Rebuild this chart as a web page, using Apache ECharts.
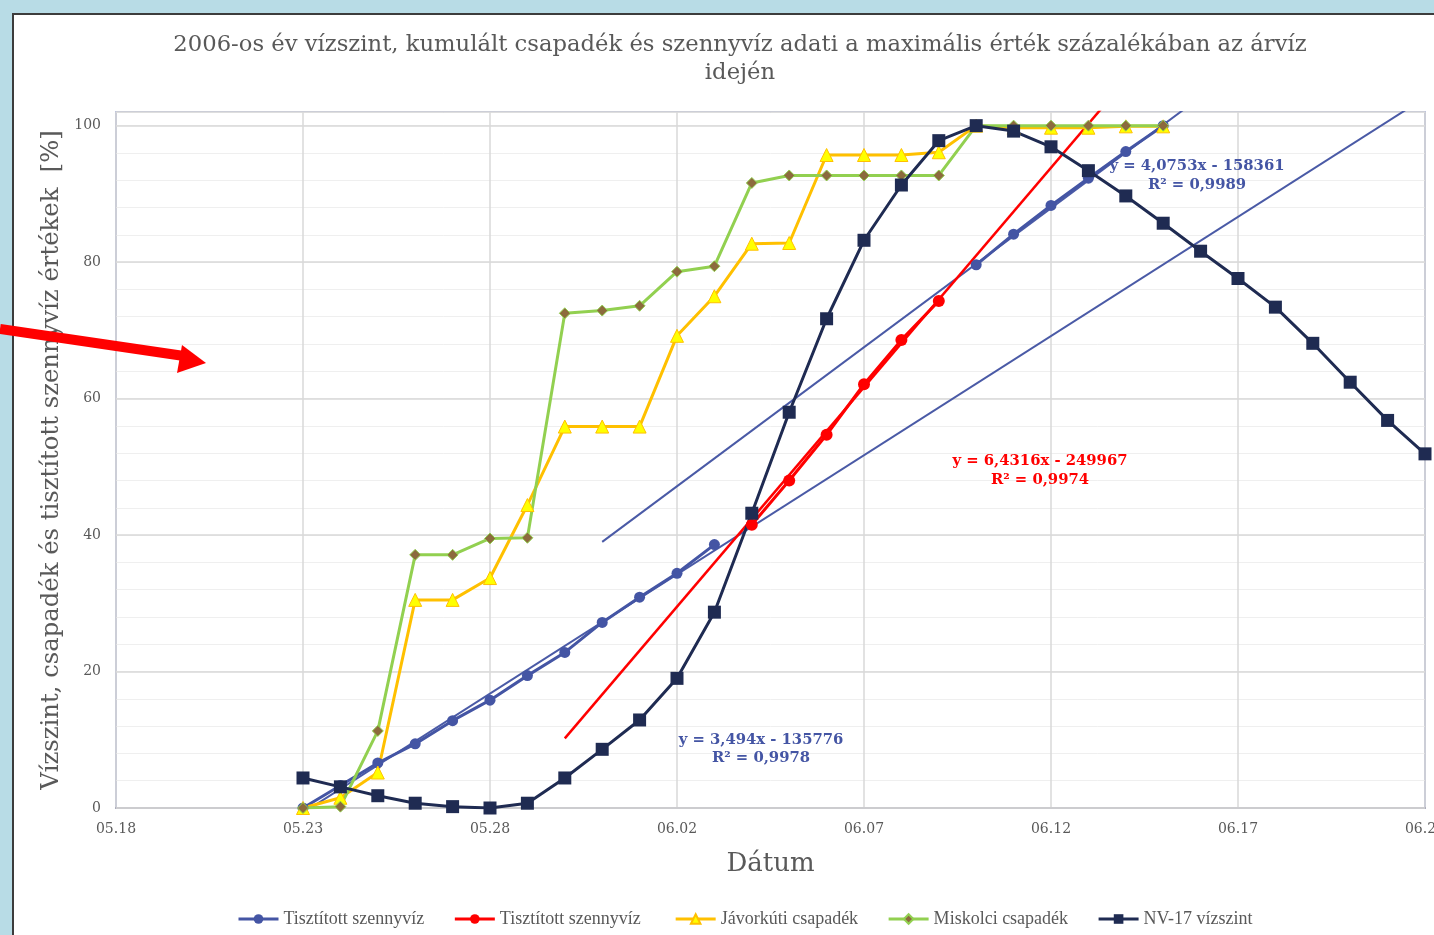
<!DOCTYPE html>
<html>
<head>
<meta charset="utf-8">
<script src="https://cdn.jsdelivr.net/npm/echarts@6/dist/echarts.min.js"></script>
<style>
html, body { margin: 0; padding: 0; background: #b8dce6; }
#frame { position: absolute; left: 12px; top: 13px; right: 0; bottom: 0; background: #fff;
         border-left: 2px solid #3c3c3c; border-top: 2px solid #3c3c3c; }
#chart1 { position: absolute; left: 0; top: 0; width: 1434px; height: 935px; }
</style>
</head>
<body>
<div id="frame"></div>
<div id="chart1"></div>
<script>
// napok 05.23 - 06.22
var dates = ['05.23','05.24','05.25','05.26','05.27','05.28','05.29','05.30','05.31',
             '06.01','06.02','06.03','06.04','06.05','06.06','06.07','06.08','06.09','06.10',
             '06.11','06.12','06.13','06.14','06.15','06.16','06.17','06.18','06.19','06.20',
             '06.21','06.22'];
var tickLabels = ['05.18','05.23','05.28','06.02','06.07','06.12','06.17','06.22'];
var legendNames = ['Tisztított szennyvíz', 'Tisztított szennyvíz ', 'Jávorkúti csapadék',
                   'Miskolci csapadék', 'NV-17 vízszint'];

var szennyvizKek = [0, 3.3, 6.6, 9.4, 12.8, 15.8, 19.4, 22.8, 27.2, 30.9, 34.4, 38.6,
                    null, null, null, null, null, null,
                    79.6, 84.1, 88.3, 92.3, 96.2, 100,
                    null, null, null, null, null, null, null];
var szennyvizPiros = [null, null, null, null, null, null, null, null, null, null, null, null,
                      41.5, 48.0, 54.7, 62.1, 68.6, 74.3,
                      null, null, null, null, null, null, null, null, null, null, null, null, null];
var javorkut = [0, 1.5, 5.2, 30.5, 30.5, 33.7, 44.4, 55.9, 55.9, 55.9, 69.2, 75.0, 82.7, 82.8,
                95.7, 95.7, 95.7, 96.1, 100, 99.7, 99.7, 99.7, 99.9, 99.9,
                null, null, null, null, null, null, null];
var miskolc = [0, 0.2, 11.3, 37.1, 37.1, 39.5, 39.6, 72.5, 72.9, 73.6, 78.6, 79.4, 91.6, 92.7,
               92.7, 92.7, 92.7, 92.7, 100, 100, 100, 100, 100, 100,
               null, null, null, null, null, null, null];
var nv17 = [4.4, 3.1, 1.8, 0.7, 0.2, 0.0, 0.7, 4.4, 8.6, 12.9, 19.0, 28.7, 43.2, 58.0, 71.7,
            83.2, 91.3, 97.8, 100, 99.2, 96.9, 93.4, 89.7, 85.7, 81.6, 77.6, 73.4, 68.1, 62.4,
            56.8, 51.9];

// trendvonalak vegpontjai [nap, ertek] (a kepről leolvasva)
var trendA = [[5, -0.7], [35, 104.1]];
var trendB = [[13, 39.0], [29, 104.2]];
var trendC = [[12, 10.2], [27, 106.7]];

var serif = '"DejaVu Serif", serif';
var grey = '#595959';

function dayOf(s) {
    var p = s.split('.');
    var m = +p[0], d = +p[1];
    return m === 5 ? d - 18 : d + 13;
}
function pairs(vals) {
    return dates.map(function (d, i) { return [dayOf(d), vals[i]]; });
}
function trend(pts, color, w) {
    return {
        type: 'line', data: pts, symbol: 'none', silent: true, z: 1,
        lineStyle: { width: w, color: color }
    };
}
function dataLine(name, vals, symbol, size, lineColor, fill, border) {
    return {
        name: name, type: 'line', data: pairs(vals), symbol: symbol, symbolSize: size, z: 3,
        lineStyle: { width: 3, color: lineColor },
        itemStyle: { color: fill, borderColor: border || fill, borderWidth: border ? 1 : 0 },
        emphasis: { disabled: true }
    };
}
function txt(x, y, text, font, color) {
    return {
        type: 'text', x: x, y: y, z: 100,
        style: { text: text, font: font, fill: color, textAlign: 'center', align: 'center',
                 textVerticalAlign: 'middle', verticalAlign: 'middle' }
    };
}

var myChart = echarts.init(document.getElementById('chart1'));
var eqFont = 'bold 14.8px "DejaVu Serif"';
var option = {
    animation: false,
    backgroundColor: 'transparent',
    grid: { left: 116, top: 112, width: 1309, height: 696, show: true, outerBoundsMode: 'none',
            borderColor: '#8a95c4', borderWidth: 1.5 },
    legend: {
        data: legendNames, left: 232, top: 905, itemWidth: 40, itemHeight: 12, itemGap: 29,
        lineStyle: { width: 3 },
        textStyle: { fontFamily: '"Liberation Serif", serif', fontSize: 18, color: grey }
    },
    xAxis: {
        type: 'value', min: 0, max: 35, interval: 5,
        axisLine: { lineStyle: { color: '#a6a6b4', width: 2 } },
        axisTick: { show: false },
        splitLine: { lineStyle: { color: '#d9d9d9', width: 1.5 } },
        axisLabel: {
            color: grey, fontFamily: serif, fontSize: 14, margin: 14,
            formatter: function (v) { return tickLabels[Math.round(v / 5)] || ''; }
        },
        name: 'Dátum', nameLocation: 'middle', nameGap: 43,
        nameTextStyle: { fontFamily: serif, fontSize: 26, color: grey }
    },
    yAxis: [{
        type: 'value', min: 0, max: 102, interval: 20, z: 1,
        axisLine: { show: false }, axisTick: { show: false },
        splitLine: { lineStyle: { color: '#d9d9d9', width: 1.5 } },
        axisLabel: { showMaxLabel: false, color: grey, fontFamily: serif, fontSize: 14, margin: 15 },
        name: 'Vízszint, csapadék és tisztított szennyvíz értékek  [%]',
        nameLocation: 'middle', nameGap: 42,
        nameTextStyle: { fontFamily: serif, fontSize: 24.3, color: grey }
    }, {
        // apro racsvonalak
        type: 'value', min: 0, max: 102, interval: 4, position: 'left', z: 0,
        axisLine: { show: false }, axisTick: { show: false }, axisLabel: { show: false },
        splitLine: { lineStyle: { color: '#efefef', width: 1 } }
    }],
    series: [
        trend(trendA, '#4a5aa6', 2),
        trend(trendB, '#4a5aa6', 2),
        trend(trendC, '#ff0000', 2.5),
        dataLine(legendNames[0], szennyvizKek, 'circle', 11, '#4455a4', '#4455a4'),
        dataLine(legendNames[1], szennyvizPiros, 'circle', 12, '#ff0000', '#ff0000'),
        dataLine(legendNames[2], javorkut, 'triangle', 13, '#ffc000', '#ffff00', '#ffc000'),
        dataLine(legendNames[3], miskolc, 'diamond', 11, '#92d050', '#8c6b3d', '#92d050'),
        dataLine(legendNames[4], nv17, 'rect', 13, '#1f2b52', '#1f2b52')
    ],
    graphic: [
        txt(740, 45, '2006-os év vízszint, kumulált csapadék és szennyvíz adati a maximális érték százalékában az árvíz', '22.7px "DejaVu Serif"', grey),
        txt(740, 73, 'idején', '22.7px "DejaVu Serif"', grey),
        txt(1197, 166, 'y = 4,0753x - 158361', eqFont, '#4455a4'),
        txt(1197, 185, 'R² = 0,9989', eqFont, '#4455a4'),
        txt(1040, 461, 'y = 6,4316x - 249967', eqFont, '#ff0000'),
        txt(1040, 480, 'R² = 0,9974', eqFont, '#ff0000'),
        txt(761, 740, 'y = 3,494x - 135776', eqFont, '#4455a4'),
        txt(761, 758, 'R² = 0,9978', eqFont, '#4455a4'),
        { type: 'line', z: 100, shape: { x1: 0, y1: 329, x2: 184, y2: 356 },
          style: { stroke: '#ff0000', lineWidth: 10 } },
        { type: 'polygon', z: 100, shape: { points: [[182, 345], [206, 363], [177, 373]] },
          style: { fill: '#ff0000' } }
    ]
};
myChart.setOption(option);
</script>
</body>
</html>
